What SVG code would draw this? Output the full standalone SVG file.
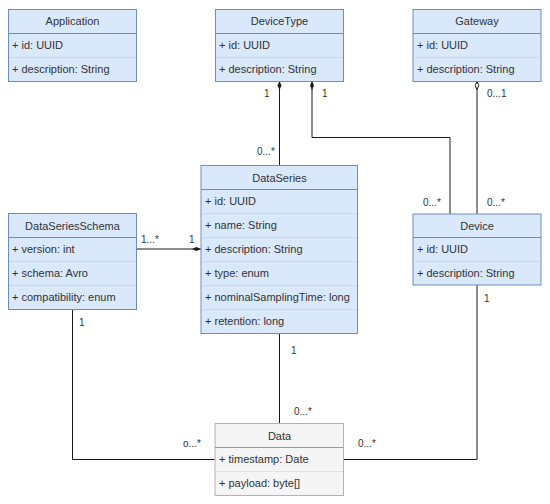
<svg xmlns="http://www.w3.org/2000/svg" width="550" height="504" viewBox="0 0 550 504">
<defs>
<style>
text{font-family:"Liberation Sans",Arial,sans-serif;font-size:11px;fill:#333}
.hdr{text-anchor:middle}
.box{fill:#dae8fc;stroke:#6c8ebf;stroke-width:1}
.sep{stroke:#6c8ebf;stroke-width:1}
.rsep{stroke:#c7d8f0;stroke-width:1}
.gbox{fill:#f5f5f5;stroke:#b3b3b3;stroke-width:1}
.gsep{stroke:#999;stroke-width:1}
.grsep{stroke:#e2e2e2;stroke-width:1}
.edge{fill:none;stroke:#1a1a1a;stroke-width:1}
.lbl{font-size:10px}
</style>
<marker id="dmf" viewBox="0 0 10 6" refX="0" refY="3" markerWidth="10" markerHeight="6" markerUnits="userSpaceOnUse" orient="auto">
<path d="M0,3 L4.5,1 L9,3 L4.5,5 Z" fill="#1a1a1a"/>
</marker>
<marker id="dmh" viewBox="0 0 10 6" refX="0" refY="3" markerWidth="10" markerHeight="6" markerUnits="userSpaceOnUse" orient="auto">
<path d="M0.5,3 L4.5,1.2 L8.5,3 L4.5,4.8 Z" fill="#fff" stroke="#1a1a1a" stroke-width="1"/>
</marker>
</defs>
<rect width="550" height="504" fill="#fff"/>

<g id="connectors">
<path class="edge" d="M279.5,81 L279.5,165.5" marker-start="url(#dmf)"/>
<path class="edge" d="M312,81 L312,137.5 L450,137.5 L450,214" marker-start="url(#dmf)"/>
<path class="edge" d="M477,81 L477,214" marker-start="url(#dmh)"/>
<path class="edge" d="M201,249 L137,249" marker-start="url(#dmf)"/>
<path class="edge" d="M72.5,309.5 L72.5,459.5 L215,459.5"/>
<path class="edge" d="M279.5,333.5 L279.5,423.5"/>
<path class="edge" d="M477,285 L477,459.5 L343.5,459.5"/>
<text class="lbl" x="264" y="97">1</text>
<text class="lbl" x="257" y="155">0...*</text>
<text class="lbl" x="322" y="97">1</text>
<text class="lbl" x="487" y="97">0...1</text>
<text class="lbl" x="423" y="206">0...*</text>
<text class="lbl" x="487" y="206">0...*</text>
<text class="lbl" x="141" y="243">1...*</text>
<text class="lbl" x="189" y="243">1</text>
<text class="lbl" x="79" y="326">1</text>
<text class="lbl" x="484" y="302">1</text>
<text class="lbl" x="291" y="354">1</text>
<text class="lbl" x="294" y="415">0...*</text>
<text class="lbl" x="183" y="447">o...*</text>
<text class="lbl" x="358" y="447">0...*</text>
</g>

<g id="Application">
<rect class="box" x="8.5" y="9.5" width="128" height="72"/>
<line class="sep" x1="8.5" y1="33.5" x2="136.5" y2="33.5"/>
<line class="rsep" x1="9" y1="57.5" x2="136" y2="57.5"/>
<text class="hdr" x="72.5" y="25">Application</text>
<text x="12" y="49">+ id: UUID</text>
<text x="12" y="73">+ description: String</text>
</g>

<g id="DeviceType">
<rect class="box" x="215.5" y="9.5" width="128" height="72"/>
<line class="sep" x1="215.5" y1="33.5" x2="343.5" y2="33.5"/>
<line class="rsep" x1="216" y1="57.5" x2="343" y2="57.5"/>
<text class="hdr" x="279.5" y="25">DeviceType</text>
<text x="219" y="49">+ id: UUID</text>
<text x="219" y="73">+ description: String</text>
</g>

<g id="Gateway">
<rect class="box" x="413" y="9.5" width="128" height="72"/>
<line class="sep" x1="413" y1="33.5" x2="541" y2="33.5"/>
<line class="rsep" x1="413.5" y1="57.5" x2="540.5" y2="57.5"/>
<text class="hdr" x="477" y="25">Gateway</text>
<text x="417" y="49">+ id: UUID</text>
<text x="417" y="73">+ description: String</text>
</g>

<g id="DataSeries">
<rect class="box" x="201" y="165.5" width="156.5" height="168"/>
<line class="sep" x1="201" y1="189.5" x2="357.5" y2="189.5"/>
<line class="rsep" x1="201.5" y1="213.5" x2="357" y2="213.5"/>
<line class="rsep" x1="201.5" y1="237.5" x2="357" y2="237.5"/>
<line class="rsep" x1="201.5" y1="261.5" x2="357" y2="261.5"/>
<line class="rsep" x1="201.5" y1="285.5" x2="357" y2="285.5"/>
<line class="rsep" x1="201.5" y1="309.5" x2="357" y2="309.5"/>
<text class="hdr" x="279.5" y="182">DataSeries</text>
<text x="205" y="205">+ id: UUID</text>
<text x="205" y="229">+ name: String</text>
<text x="205" y="253">+ description: String</text>
<text x="205" y="277">+ type: enum</text>
<text x="205" y="301">+ nominalSamplingTime: long</text>
<text x="205" y="325">+ retention: long</text>
</g>

<g id="DataSeriesSchema">
<rect class="box" x="8.5" y="213.5" width="128" height="96"/>
<line class="sep" x1="8.5" y1="237.5" x2="136.5" y2="237.5"/>
<line class="rsep" x1="9" y1="261.5" x2="136" y2="261.5"/>
<line class="rsep" x1="9" y1="285.5" x2="136" y2="285.5"/>
<text class="hdr" x="72.5" y="230">DataSeriesSchema</text>
<text x="12" y="253">+ version: int</text>
<text x="12" y="277">+ schema: Avro</text>
<text x="12" y="301">+ compatibility: enum</text>
</g>

<g id="Device">
<rect class="box" x="413" y="214" width="128" height="71"/>
<line class="sep" x1="413" y1="237.5" x2="541" y2="237.5"/>
<line class="rsep" x1="413.5" y1="261.5" x2="540.5" y2="261.5"/>
<text class="hdr" x="477" y="230">Device</text>
<text x="417" y="253">+ id: UUID</text>
<text x="417" y="277">+ description: String</text>
</g>

<g id="Data">
<rect class="gbox" x="215" y="423.5" width="128.5" height="72"/>
<line class="gsep" x1="215" y1="447.5" x2="343.5" y2="447.5"/>
<line class="grsep" x1="215.5" y1="471.5" x2="343" y2="471.5"/>
<text class="hdr" x="279.5" y="440">Data</text>
<text x="219" y="463">+ timestamp: Date</text>
<text x="219" y="487">+ payload: byte[]</text>
</g>
</svg>
